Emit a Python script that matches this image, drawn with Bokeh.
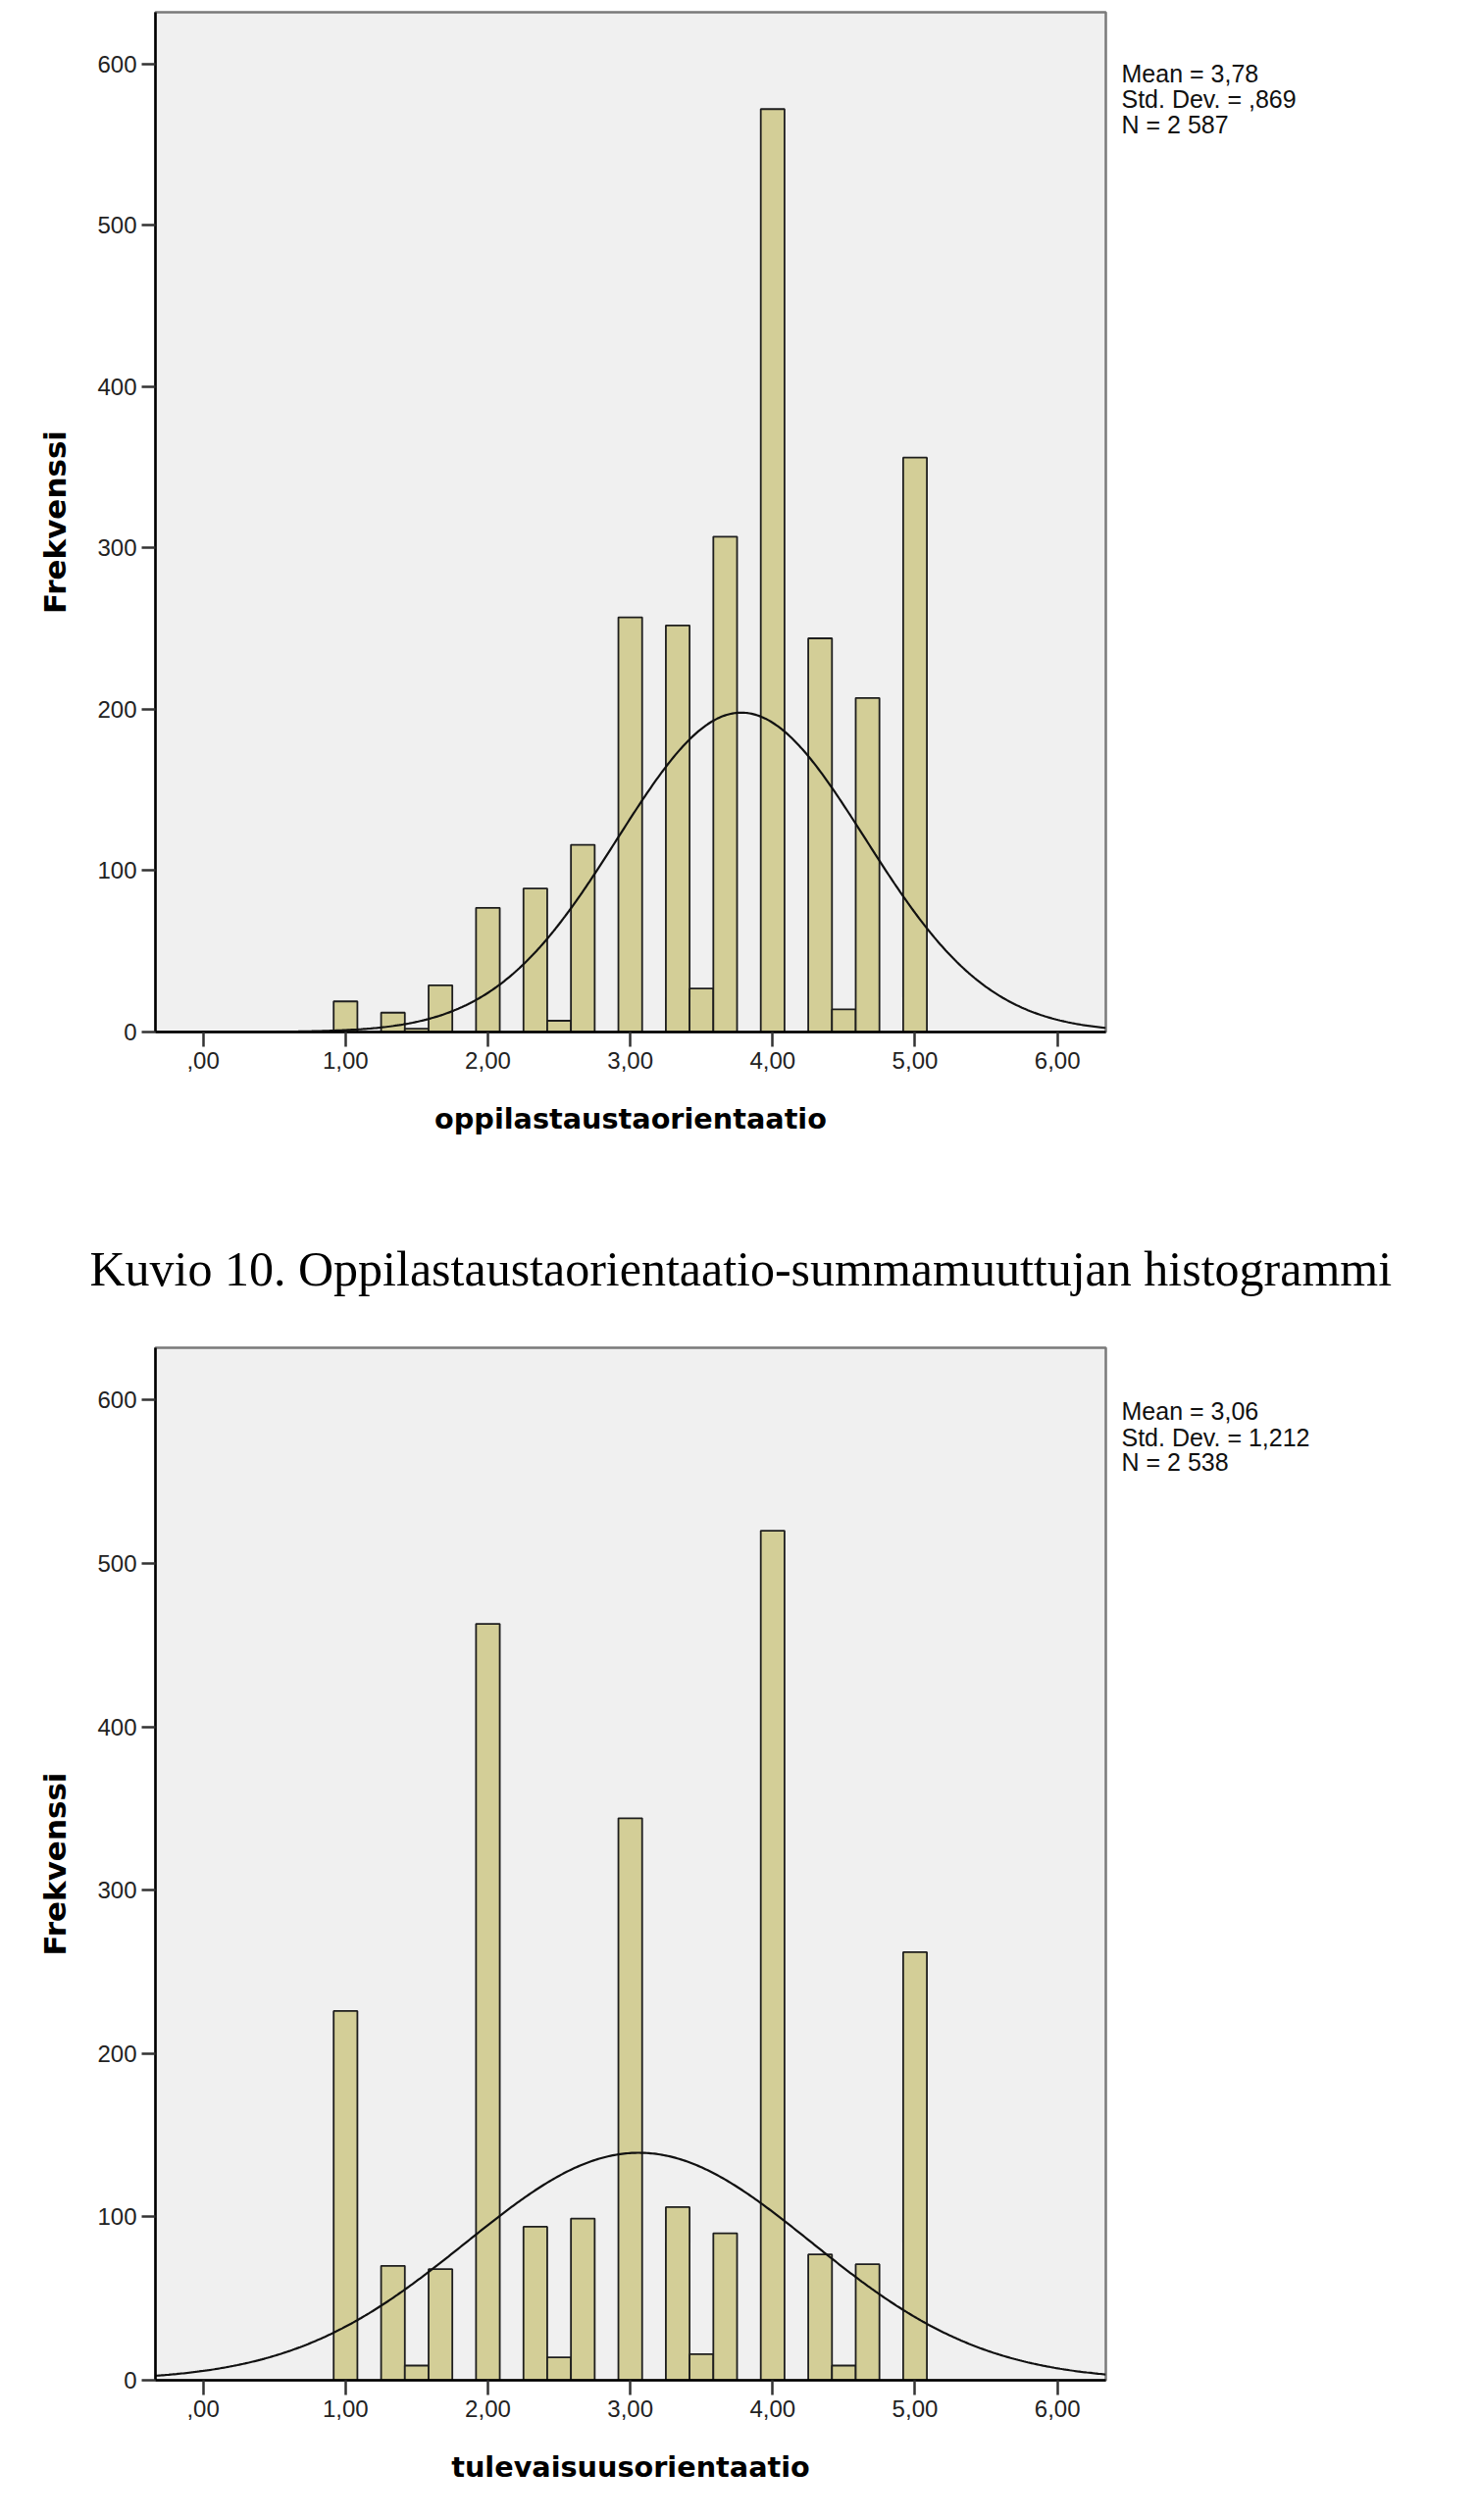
import numpy as np
from bokeh.plotting import figure
from bokeh.models import Range1d, FixedTicker, ColumnDataSource, LinearAxis, Title
from bokeh.layouts import column
from bokeh.embed import file_html
from bokeh.resources import INLINE

# ---------------- data ----------------
bin_centers = [1.0, 1.3333, 1.5, 1.6667, 2.0, 2.3333, 2.5, 2.6667, 3.0,
               3.3333, 3.5, 3.6667, 4.0, 4.3333, 4.5, 4.6667, 5.0]
bin_width = 1 / 6

counts_oppilas = [19, 12, 2, 29, 77, 89, 7, 116, 257, 252, 27, 307, 572, 244, 14, 207, 356]
counts_tulevaisuus = [226, 70, 9, 68, 463, 94, 14, 99, 344, 106, 16, 90, 520, 77, 9, 71, 262]

mean_oppilas, sd_oppilas, n_oppilas = 3.78, 0.869, 2587
mean_tulevaisuus, sd_tulevaisuus, n_tulevaisuus = 3.06, 1.212, 2538

stats_oppilas = ["Mean = 3,78", "Std. Dev. = ,869", "N = 2 587"]
stats_tulevaisuus = ["Mean = 3,06", "Std. Dev. = 1,212", "N = 2 538"]

x_ticks = [0, 1, 2, 3, 4, 5, 6]
x_tick_labels = [",00", "1,00", "2,00", "3,00", "4,00", "5,00", "6,00"]
y_ticks = [0, 100, 200, 300, 400, 500, 600]

caption = "Kuvio 10. Oppilastaustaorientaatio-summamuuttujan histogrammi"

X_START, X_END = -0.335, 6.34
Y_START, Y_END = 0, 632

PAGE_W = 1500
FRAME_LEFT = 158
FRAME_W = 969
TICK_FONT = "Liberation Sans"
LABEL_FONT = "DejaVu Sans"


def make_hist(centers, counts, mean, sd, n, stats, xlabel,
              top, frame_h, fig_h, stats_dy):
    p = figure(width=PAGE_W, height=fig_h, title=None,
               x_range=Range1d(X_START, X_END), y_range=Range1d(Y_START, Y_END),
               toolbar_location=None, output_backend="svg",
               min_border_left=FRAME_LEFT,
               min_border_right=PAGE_W - FRAME_LEFT - FRAME_W,
               min_border_top=top, min_border_bottom=fig_h - top - frame_h)
    p.background_fill_color = "#F0F0F0"
    p.border_fill_color = "white"
    p.outline_line_color = "#7a7a7a"
    p.outline_line_width = 2.5
    p.grid.visible = False

    src = ColumnDataSource(dict(
        left=[c - bin_width / 2 for c in centers],
        right=[c + bin_width / 2 for c in centers],
        top=counts, bottom=[0] * len(counts)))
    p.quad(left="left", right="right", top="top", bottom="bottom", source=src,
           fill_color="#D3CE97", line_color="#1e1e1e", line_width=1.8)

    xs = np.linspace(X_START, X_END, 500)
    ys = n * bin_width * np.exp(-0.5 * ((xs - mean) / sd) ** 2) / (sd * np.sqrt(2 * np.pi))
    p.line(xs, ys, line_color="#111111", line_width=2.2)

    xa = p.xaxis[0]
    xa.ticker = FixedTicker(ticks=x_ticks)
    xa.major_label_overrides = {t: l for t, l in zip(x_ticks, x_tick_labels)}
    ya = p.yaxis[0]
    ya.ticker = FixedTicker(ticks=y_ticks)
    for ax in (xa, ya):
        ax.minor_tick_line_color = None
        ax.major_tick_in = 0
        ax.major_tick_line_color = "#333333"
        ax.major_tick_line_width = 2.5
        ax.axis_line_color = "black"
        ax.axis_line_width = 2.5
        ax.major_label_text_font = TICK_FONT
        ax.major_label_text_font_size = "24px"
        ax.major_label_text_color = "#222222"
        ax.major_label_standoff = 5
        ax.axis_label_text_font = LABEL_FONT
        ax.axis_label_text_font_style = "bold"
        ax.axis_label_text_color = "black"
    xa.major_tick_out = 15
    ya.major_tick_out = 14
    xa.axis_label = xlabel
    xa.axis_label_text_font_size = "28.7px"
    xa.axis_label_standoff = 31
    ya.axis_label = "Frekvenssi"
    ya.axis_label_text_font_size = "31px"
    ya.axis_label_standoff = 22

    # statistics box to the right of the frame (drawn as a bare right axis)
    px_y = frame_h / (Y_END - Y_START)
    stat_pos = [round(Y_END - dy / px_y, 4) for dy in stats_dy]
    ra = LinearAxis(ticker=FixedTicker(ticks=stat_pos),
                    major_label_overrides={v: t for v, t in zip(stat_pos, stats)})
    ra.axis_line_color = None
    ra.major_tick_line_color = None
    ra.minor_tick_line_color = None
    ra.major_tick_in = 0
    ra.major_tick_out = 0
    ra.major_label_standoff = 16
    ra.major_label_text_font = TICK_FONT
    ra.major_label_text_font_size = "25px"
    ra.major_label_text_color = "#111111"
    p.add_layout(ra, "right")
    return p


p1 = make_hist(bin_centers, counts_oppilas, mean_oppilas, sd_oppilas, n_oppilas,
               stats_oppilas, "oppilastaustaorientaatio",
               top=12, frame_h=1040, fig_h=1200, stats_dy=[63, 89, 115])

p2 = make_hist(bin_centers, counts_tulevaisuus, mean_tulevaisuus, sd_tulevaisuus,
               n_tulevaisuus, stats_tulevaisuus, "tulevaisuusorientaatio",
               top=174, frame_h=1053, fig_h=1368, stats_dy=[64, 91, 117])
# figure caption sits between the two charts, above the second frame
p2.add_layout(Title(text=caption, text_font="Liberation Serif", text_font_size="50px",
                    text_font_style="normal", text_color="black", align="left",
                    offset=91 - FRAME_LEFT, standoff=106), "above")

layout = column(p1, p2, spacing=0)
open("out.html", "w").write(file_html(layout, INLINE))
